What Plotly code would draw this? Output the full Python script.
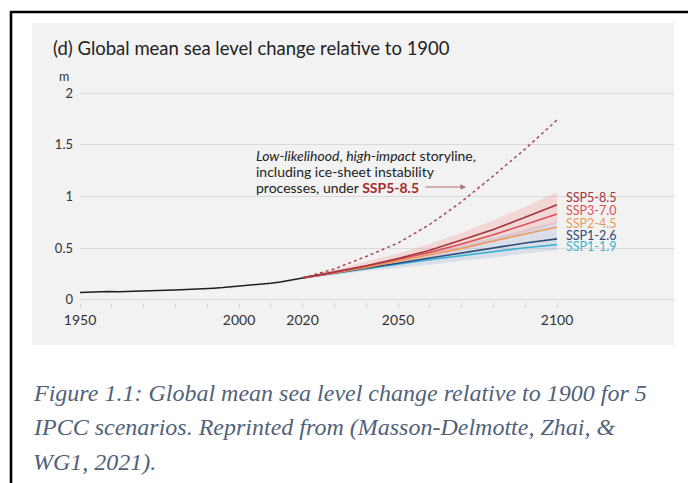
import plotly.graph_objects as go

# ---- data (global mean sea level change relative to 1900, m) ----
hist_years = [1950, 1953, 1956, 1959, 1962, 1965, 1968, 1971, 1974, 1977, 1980,
              1983, 1986, 1989, 1992, 1995, 1998, 2001, 2004, 2007, 2010, 2013,
              2016, 2020]
hist_gmsl = [0.072, 0.076, 0.079, 0.081, 0.080, 0.084, 0.086, 0.085, 0.089, 0.093,
             0.097, 0.100, 0.104, 0.109, 0.114, 0.120, 0.127, 0.135, 0.144, 0.152,
             0.162, 0.174, 0.188, 0.213]

proj_years = [2020, 2030, 2040, 2050, 2060, 2070, 2080, 2090, 2100]
ssp119 = [0.213, 0.255, 0.300, 0.345, 0.390, 0.430, 0.470, 0.505, 0.535]
ssp126 = [0.213, 0.258, 0.305, 0.355, 0.405, 0.455, 0.505, 0.550, 0.590]
ssp245 = [0.213, 0.260, 0.315, 0.375, 0.435, 0.500, 0.570, 0.640, 0.705]
ssp370 = [0.213, 0.265, 0.325, 0.390, 0.460, 0.540, 0.630, 0.730, 0.830]
ssp585 = [0.213, 0.270, 0.330, 0.400, 0.480, 0.580, 0.680, 0.800, 0.920]

ssp585_low = [0.213, 0.250, 0.300, 0.350, 0.410, 0.480, 0.560, 0.650, 0.740]
ssp585_high = [0.213, 0.290, 0.370, 0.450, 0.540, 0.650, 0.770, 0.900, 1.040]
ssp126_low = [0.213, 0.240, 0.280, 0.310, 0.340, 0.380, 0.410, 0.450, 0.480]
ssp126_high = [0.213, 0.270, 0.330, 0.390, 0.460, 0.530, 0.600, 0.680, 0.760]

storyline = [0.213, 0.300, 0.420, 0.550, 0.730, 0.950, 1.200, 1.460, 1.740]

scenario_names = ["SSP5-8.5", "SSP3-7.0", "SSP2-4.5", "SSP1-2.6", "SSP1-1.9"]
scenario_values = [ssp585, ssp370, ssp245, ssp126, ssp119]
scenario_colors = ["#a2353b", "#de4f57", "#ec9a55", "#2d4a78", "#3db4d6"]

x_ticks = list(range(1950, 2101, 10))
x_labels = {1950: "1950", 2000: "2000", 2020: "2020", 2050: "2050", 2100: "2100"}
y_ticks = [0, 0.5, 1, 1.5, 2]
y_labels = ["0", "0.5", "1", "1.5", "2"]

# ---- page geometry (pixels) ----
W, H = 688, 483
PL, PR, PT, PB = 80, 674, 91, 302  # plot area edges


def px(x):
    return (x - PL) / (PR - PL)


def py(y):
    return (PB - y) / (PB - PT)


FONT = "Lato"
CAPTION_FONT = dict(family="Liberation Serif", size=24, color="#51617a")
fig = go.Figure()

# uncertainty bands
fig.add_trace(go.Scatter(x=proj_years, y=ssp585_low, mode="lines",
                         line=dict(width=0), hoverinfo="skip"))
fig.add_trace(go.Scatter(x=proj_years, y=ssp585_high, mode="lines",
                         line=dict(width=0), fill="tonexty",
                         fillcolor="rgba(246,150,150,0.30)", hoverinfo="skip"))
fig.add_trace(go.Scatter(x=proj_years, y=ssp126_low, mode="lines",
                         line=dict(width=0), hoverinfo="skip"))
fig.add_trace(go.Scatter(x=proj_years, y=ssp126_high, mode="lines",
                         line=dict(width=0), fill="tonexty",
                         fillcolor="rgba(125,145,195,0.20)", hoverinfo="skip"))

# scenario medians (drawn low to high so SSP5-8.5 sits on top)
for name, vals, col in reversed(list(zip(scenario_names, scenario_values, scenario_colors))):
    fig.add_trace(go.Scatter(x=proj_years, y=vals, mode="lines", name=name,
                             line=dict(color=col, width=1.6)))

# low-likelihood, high-impact storyline
fig.add_trace(go.Scatter(x=proj_years, y=storyline, mode="lines",
                         line=dict(color="#a84b4f", width=1.5, dash="3px,3px")))

# observed record
fig.add_trace(go.Scatter(x=hist_years, y=hist_gmsl, mode="lines",
                         line=dict(color="#1e1e1e", width=1.5)))

shapes = [
    # light grey panel
    dict(type="rect", xref="paper", yref="paper", x0=px(32), x1=px(674),
         y0=py(345), y1=py(23), fillcolor="#f2f2f2", line=dict(width=0),
         layer="below"),
    # black frame lines
    dict(type="line", xref="paper", yref="paper", x0=px(10), x1=px(688),
         y0=py(12), y1=py(12), line=dict(color="#000000", width=2.6)),
    dict(type="line", xref="paper", yref="paper", x0=px(11), x1=px(11),
         y0=py(11), y1=py(484), line=dict(color="#000000", width=2.6)),
]

annotations = [
    dict(text="(d) Global mean sea level change relative to 1900", xref="paper",
         yref="paper", x=px(51), y=py(48), xanchor="left", yanchor="middle",
         showarrow=False, font=dict(family=FONT, size=18.5, color="#222222")),
    dict(text="m", xref="paper", yref="paper", x=px(64), y=py(76),
         xanchor="center", yanchor="middle", showarrow=False,
         font=dict(family=FONT, size=12.5, color="#333333")),
    dict(text="<i>Low-likelihood</i>, <i>high-impact</i> storyline,", xref="paper",
         yref="paper", x=px(254), y=py(155), xanchor="left", yanchor="middle",
         showarrow=False, font=dict(family=FONT, size=14, color="#222222")),
    dict(text="including ice-sheet instability", xref="paper",
         yref="paper", x=px(254), y=py(171), xanchor="left", yanchor="middle",
         showarrow=False, font=dict(family=FONT, size=14, color="#222222")),
    dict(text="processes, under <b><span style='color:#a8282e'>SSP5-8.5</span></b>",
         xref="paper", yref="paper", x=px(254), y=py(187), xanchor="left",
         yanchor="middle", showarrow=False,
         font=dict(family=FONT, size=14, color="#222222")),
    dict(text="", xref="paper", yref="paper", x=px(466), y=py(187),
         ax=-42, ay=0, showarrow=True, arrowhead=2, arrowsize=1.0,
         arrowwidth=1.1, arrowcolor="#b07070"),
    dict(text="<i>Figure 1.1: Global mean sea level change relative to 1900 for 5</i>",
         xref="paper", yref="paper", x=px(31), y=py(393), xanchor="left",
         yanchor="middle", showarrow=False, font=CAPTION_FONT),
    dict(text="<i>IPCC scenarios. Reprinted from (Masson-Delmotte, Zhai, &amp;</i>",
         xref="paper", yref="paper", x=px(31), y=py(427), xanchor="left",
         yanchor="middle", showarrow=False, font=CAPTION_FONT),
    dict(text="<i>WG1, 2021).</i>",
         xref="paper", yref="paper", x=px(31), y=py(462), xanchor="left",
         yanchor="middle", showarrow=False, font=CAPTION_FONT),
]

# scenario labels at 2100
label_y_px = [197, 210.5, 223, 235, 246.5]
for name, col, ly in zip(scenario_names, scenario_colors, label_y_px):
    annotations.append(dict(text=name, xref="paper", yref="paper", x=px(565),
                            y=py(ly), xanchor="left", yanchor="middle",
                            showarrow=False, borderpad=0,
                            font=dict(family=FONT, size=12.5, color=col)))

fig.update_layout(
    width=W, height=H,
    margin=dict(l=PL, r=W - PR, t=PT, b=H - PB, pad=0),
    paper_bgcolor="#ffffff", plot_bgcolor="rgba(0,0,0,0)",
    showlegend=False,
    shapes=shapes, annotations=annotations,
    font=dict(family=FONT, color="#333333"),
)
fig.update_xaxes(
    range=[1950, 1950 + (PR - PL) / 3.18], tickmode="array", tickvals=x_ticks,
    ticktext=[x_labels.get(t, "") for t in x_ticks], ticks="outside",
    ticklen=5, tickcolor="#d4d4d4", tickwidth=1, showgrid=False,
    zeroline=False, showline=False,
    tickfont=dict(family=FONT, size=14, color="#333333"),
)
fig.update_yaxes(
    range=[-0.02, 2.02], tickmode="array", tickvals=y_ticks, ticktext=y_labels,
    showgrid=True, gridcolor="#d9d9d9", gridwidth=1, zeroline=False,
    ticks="", ticklabelstandoff=6,
    tickfont=dict(family=FONT, size=13, color="#333333"),
)

fig.write_html("out.html")
